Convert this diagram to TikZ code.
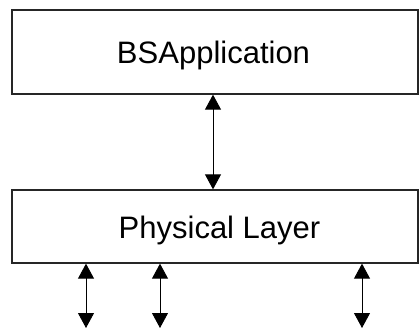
\documentclass[tikz,border=0pt]{standalone}
\usepackage{fontspec}
\setmainfont{Liberation Sans}
\usetikzlibrary{arrows.meta,calc}
\begin{document}
\begin{tikzpicture}[x=1pt,y=1pt,
  layerbox/.style={draw=black!85, line width=1.3pt, fill=white,
    minimum width=406pt, inner sep=0pt},
  layertext/.style={anchor=base, inner sep=0pt,
    font=\fontsize{31}{36}\selectfont},
  link/.style={line width=0.9pt, {Triangle[width=16pt,length=15pt]}-{Triangle[width=16pt,length=15pt]}}]
  \useasboundingbox (0,0) rectangle (419,-329);
  % the two layers
  \node[layerbox, minimum height=84pt] (app) at (215,-52) {};
  \node[layerbox, minimum height=73pt] (phy) at (215,-226.5) {};
  \node[layertext] (appt) at ($(app.center)+(-1.5,-11)$) {BSApplication};
  \node[layertext] (phyt) at ($(phy.center)+(4.5,-11.5)$) {Physical Layer};
  % open ends of the lower links
  \coordinate (e1) at (86,-328);
  \coordinate (e2) at (160,-328);
  \coordinate (e3) at (362,-328);
  % links
  \draw[link] ($(app.south)+(-2,0)$) -- ($(phy.north)+(-2,0)$);
  \draw[link] (phy.south -| e1) -- (e1);
  \draw[link] (phy.south -| e2) -- (e2);
  \draw[link] (phy.south -| e3) -- (e3);
\end{tikzpicture}
\end{document}
